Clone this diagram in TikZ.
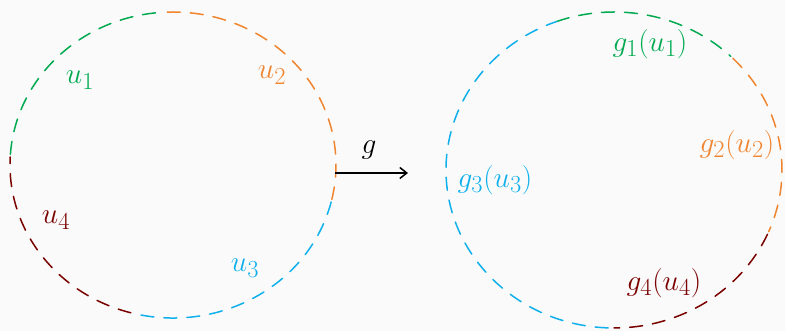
\documentclass[tikz,border=0pt]{standalone}
\usetikzlibrary{arrows.meta}
\definecolor{cgreen}{HTML}{00AA50}
\definecolor{corange}{HTML}{F08530}
\definecolor{cblue}{HTML}{10B0EC}
\definecolor{cdred}{HTML}{7A0000}
\definecolor{bgc}{HTML}{FAFAFA}
\tikzset{
  seg/.style={line width=1.5pt, line cap=round, dash pattern=on 13pt off 10pt},
  lbl/.style={inner sep=0pt, font=\Huge, scale=1.18, transform shape},
}
\begin{document}
\begin{tikzpicture}[x=1pt,y=1pt]
\fill[bgc] (0,0) rectangle (785,331);
\useasboundingbox (0,0) rectangle (785,331);
% left set
\coordinate (L) at (173,166);
\draw[seg,cgreen]  ([shift={(L)}]176:163 and 153) arc[start angle=176, end angle=93, x radius=163, y radius=153];
\draw[seg,corange] ([shift={(L)}]92:163 and 153) arc[start angle=92, end angle=-13, x radius=163, y radius=153];
\draw[seg,cblue]   ([shift={(L)}]-14:163 and 153) arc[start angle=-14, end angle=-104, x radius=163, y radius=153];
\draw[seg,cdred]   ([shift={(L)}]-105:163 and 153) arc[start angle=-105, end angle=-183, x radius=163, y radius=153];
\node[lbl,text=cgreen]  (u1) at (80,251) {$u_1$};
\node[lbl,text=corange] (u2) at (272,256) {$u_2$};
\node[lbl,text=cblue]   (u3) at (245,63) {$u_3$};
\node[lbl,text=cdred]   (u4) at (56,111) {$u_4$};
% right set
\coordinate (R) at (614,161);
\draw[seg,cgreen]  ([shift={(R)}]110:168 and 158) arc[start angle=110, end angle=46, x radius=168, y radius=158];
\draw[seg,corange] ([shift={(R)}]45:168 and 158) arc[start angle=45, end angle=-23, x radius=168, y radius=158];
\draw[seg,cdred]   ([shift={(R)}]-24:168 and 158) arc[start angle=-24, end angle=-90, x radius=168, y radius=158];
\draw[seg,cblue]   ([shift={(R)}]-92:168 and 158) arc[start angle=-92, end angle=-250, x radius=168, y radius=158];
\node[lbl,text=cgreen]  (g1) at (650,287) {$g_1(u_1)$};
\node[lbl,text=corange] (g2) at (737,186) {$g_2(u_2)$};
\node[lbl,text=cblue]   (g3) at (495,151) {$g_3(u_3)$};
\node[lbl,text=cdred]   (g4) at (664,48) {$g_4(u_4)$};
% map
\coordinate (aS) at (335,158);
\coordinate (aE) at (408,158);
\draw[line width=1.5pt, -{Straight Barb[length=7pt,width=11pt]}] (aS) -- (aE);
\node[lbl] (g) at (369,181) {$g$};
\end{tikzpicture}
\end{document}
